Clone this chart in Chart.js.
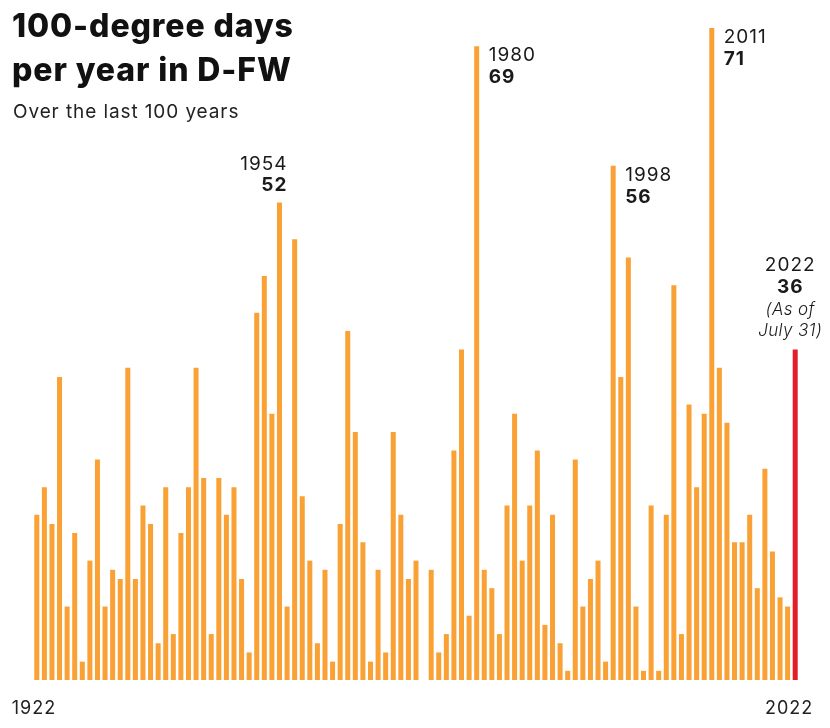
<!DOCTYPE html>
<html>
<head>
<meta charset="utf-8">
<script src="https://cdn.jsdelivr.net/npm/chart.js@4/dist/chart.umd.min.js"></script>
<style>
    html, body { margin: 0; padding: 0; background: #fff; }
    #wrap { position: relative; width: 830px; height: 728px; font-family: 'Inter', sans-serif; }
    #chart { position: absolute; left: 0; top: 0; }
    .title { position: absolute; left: 12px; top: 4px; font-size: 32px; line-height: 43.5px; font-weight: 800; color: #111; letter-spacing: 0.9px; }
    .subtitle { position: absolute; left: 13px; top: 102px; font-size: 19px; line-height: 19px; color: #222; letter-spacing: 0.9px; }
</style>
</head>
<body>
<div id="wrap">
    <canvas id="chart" width="830" height="728"></canvas>
    <div class="title">100-degree days<br>per year in D-FW</div>
    <div class="subtitle">Over the last 100 years</div>
</div>
<script>
// Years 1922 to 2022
const years = [];
for (let y = 1922; y <= 2022; y++) years.push(String(y));

// Days at or above 100 degrees, one value per year
const days = [
    18, 21, 17, 33, 8, 16, 2, 13, 24, 8,      // 1922-1931
    12, 11, 34, 11, 19, 17, 4, 21, 5, 16,     // 1932-1941
    21, 34, 22, 5, 22, 18, 21, 11, 3, 40,     // 1942-1951
    44, 29, 52, 8, 48, 20, 13, 4, 12, 2,      // 1952-1961
    17, 38, 27, 15, 2, 12, 3, 27, 18, 11,     // 1962-1971
    13, 0, 12, 3, 5, 25, 36, 7, 69, 12,       // 1972-1981
    10, 5, 19, 29, 13, 19, 25, 6, 18, 4,      // 1982-1991
    1, 24, 8, 11, 13, 2, 56, 33, 46, 8,       // 1992-2001
    1, 19, 1, 18, 43, 5, 30, 21, 29, 71,      // 2002-2011
    34, 28, 15, 15, 18, 10, 23, 14, 9, 8,     // 2012-2021
    36                                        // 2022
];

const highlightYears = ['1954', '1980', '1998', '2011', '2022'];
const partialYear = '2022';
const partialNote = ['(As of', 'July 31)'];
const axisLabels = ['1922', '2022'];

const ORANGE = '#F9A135';
const RED = '#E31E2B';

const barColors = years.map(y => y === partialYear ? RED : ORANGE);

const labelsPlugin = {
    id: 'labels',
    afterDatasetsDraw(chart) {
        const { ctx, scales: { x, y } } = chart;
        ctx.save();
        ctx.fillStyle = '#1a1a1a';
        ctx.textBaseline = 'alphabetic';
        ctx.letterSpacing = '1px';

        highlightYears.forEach(yr => {
            const i = years.indexOf(yr);
            const v = days[i];
            const px = x.getPixelForValue(i);
            const top = y.getPixelForValue(v);

            if (yr === partialYear) {
                ctx.textAlign = 'center';
                const cx = px - 5;
                ctx.font = '400 19px Inter';
                ctx.fillText(yr, cx, top - 78);
                ctx.font = '700 19px Inter';
                ctx.fillText(String(v), cx, top - 56);
                ctx.letterSpacing = '0.4px';
                ctx.font = 'italic 300 17px Inter';
                ctx.fillText(partialNote[0], cx, top - 34);
                ctx.fillText(partialNote[1], cx, top - 13);
                ctx.letterSpacing = '1px';
            } else if (yr === '1954') {
                // label sits above the bar, right aligned
                ctx.textAlign = 'right';
                ctx.font = '400 19px Inter';
                ctx.fillText(yr, px + 8, top - 32);
                ctx.font = '700 19px Inter';
                ctx.fillText(String(v), px + 8, top - 11);
            } else {
                ctx.textAlign = 'left';
                ctx.font = '400 19px Inter';
                ctx.fillText(yr, px + 12, top + 15);
                ctx.font = '700 19px Inter';
                ctx.fillText(String(v), px + 12, top + 37);
            }
        });

        // first and last year under the bars
        ctx.font = '400 18px Inter';
        ctx.fillStyle = '#222';
        ctx.textAlign = 'left';
        ctx.fillText(axisLabels[0], x.getPixelForValue(0) - 25, 714);
        ctx.textAlign = 'right';
        ctx.fillText(axisLabels[1], x.getPixelForValue(years.length - 1) + 18, 714);
        ctx.restore();
    }
};

new Chart(document.getElementById('chart'), {
    type: 'bar',
    data: {
        labels: years,
        datasets: [{
            data: days,
            backgroundColor: barColors,
            borderWidth: 0,
            barPercentage: 1,
            categoryPercentage: 0.66
        }]
    },
    options: {
        responsive: false,
        animation: false,
        layout: { padding: { left: 33, right: 31, top: 28, bottom: 48 } },
        scales: {
            x: { display: false },
            y: { display: false, min: 0, max: 71 }
        },
        plugins: {
            legend: { display: false },
            tooltip: { enabled: false }
        }
    },
    plugins: [labelsPlugin]
});
</script>
</body>
</html>
